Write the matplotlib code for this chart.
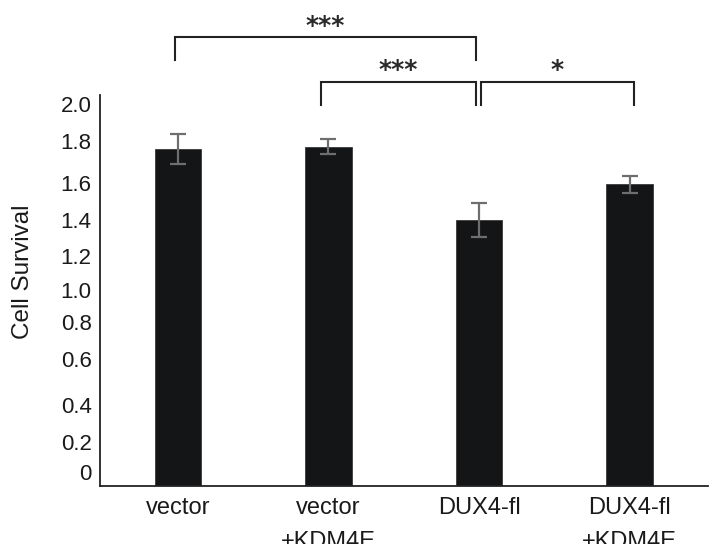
import matplotlib
matplotlib.use("Agg")
import matplotlib.pyplot as plt

categories = ["vector", "vector\n+KDM4E", "DUX4-fl", "DUX4-fl\n+KDM4E"]
values = [1.764, 1.776, 1.393, 1.58]
errors = [0.079, 0.039, 0.089, 0.045]
tick_labels = ["0", "0.2", "0.4", "0.6", "0.8", "1.0", "1.2", "1.4", "1.6", "1.8", "2.0"]
# label placement as drawn in the reference (irregular spacing)
tick_pos = [0.073, 0.230, 0.424, 0.665, 0.859, 1.026, 1.204, 1.393, 1.586, 1.806, 2.0]
# significance brackets: (left idx, right idx, label)
brackets = [(0, 2, "***"), (1, 2, "***"), (2, 3, "*")]

plt.rcParams['font.family'] = ['Liberation Sans', 'DejaVu Sans']

fig = plt.figure(figsize=(7.15, 5.44), dpi=100)
ax = fig.add_axes([0.1399, 0.1066, 0.850, 0.7188])
x = list(range(len(categories)))
ax.bar(x, values, width=0.31, color="#141517", edgecolor="#3a3a3a", linewidth=0.6, zorder=2)
ax.errorbar(x, values, yerr=errors, fmt="none", ecolor="#6e6e6e", elinewidth=1.6,
            capsize=5.5, capthick=1.6, zorder=3)
ax.set_xlim(-0.518, 3.52)
ax.set_ylim(0, 2.047)
ax.set_yticks(tick_pos)
ax.set_yticklabels(tick_labels)
ax.tick_params(axis="y", length=0, pad=6, labelsize=16, labelcolor="#1a1a1a")
ax.tick_params(axis="x", length=0, pad=8, labelsize=17, labelcolor="#1a1a1a")
ax.set_xticks(x)
ax.set_xticklabels(categories, linespacing=1.7)
for s in ["top", "right"]:
    ax.spines[s].set_visible(False)
ax.spines["left"].set_linewidth(1.3)
ax.spines["bottom"].set_linewidth(1.3)
ax.spines["left"].set_color("#222222")
ax.spines["bottom"].set_color("#222222")
fig.text(23 / 715, 1 - 272 / 544, "Cell Survival", rotation=90, ha="center", va="center",
         fontsize=17.5, color="#1a1a1a")

# bracket layout: (top y, leg end y, label y, left x offset, right x offset)
layout = {(0, 2): (2.349, 2.230, 2.41, -0.02, -0.023),
          (1, 2): (2.115, 1.995, 2.178, -0.051, -0.023),
          (2, 3): (2.115, 1.995, 2.178, 0.01, 0.03)}
for l, r, lab in brackets:
    top, leg, ty, dl, dr = layout[(l, r)]
    xl, xr = l + dl, r + dr
    ax.plot([xl, xl, xr, xr], [leg, top, top, leg], color="#222222", lw=1.5,
            clip_on=False, zorder=4, solid_joinstyle="miter")
    ax.text((xl + xr) / 2, ty, lab, ha="center", va="center", fontsize=18,
            fontweight="bold", color="#2a2a2a", family="DejaVu Sans", clip_on=False)

fig.savefig("out.png", dpi=100)
